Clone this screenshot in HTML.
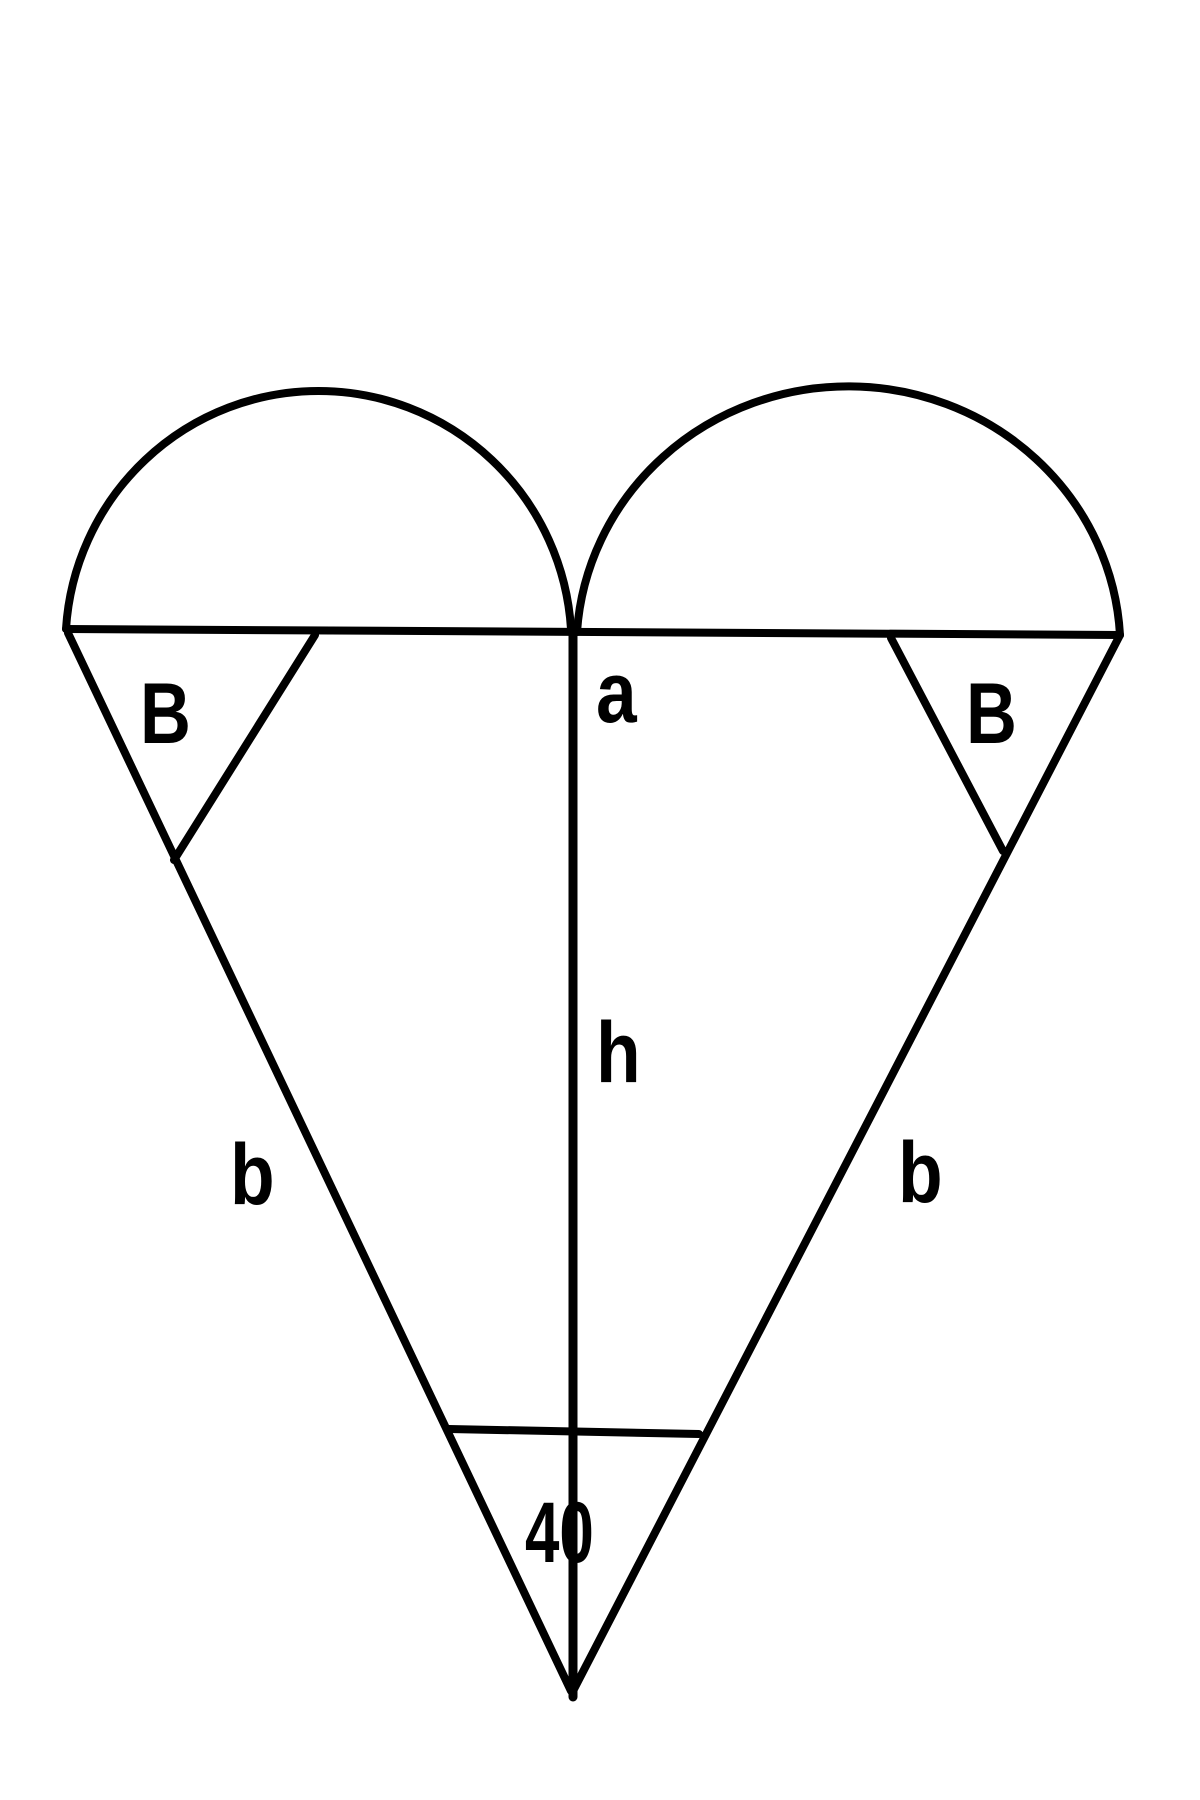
<!DOCTYPE html>
<html><head><meta charset="utf-8"><style>
html,body{margin:0;padding:0;background:#fff;}
svg{display:block;}
text{font-family:"Liberation Sans",sans-serif;font-weight:bold;fill:#000;}
</style></head><body>
<svg width="1200" height="1800" viewBox="0 0 1200 1800">
<g fill="none" stroke="#000" stroke-width="8" stroke-linecap="round" stroke-linejoin="round">
<path d="M66 629 A253 254 0 0 1 571 629"/>
<path d="M577 632 A272 263 0 0 1 1120 635"/>
<line x1="66" y1="629" x2="1120" y2="635"/>
<line x1="573" y1="629" x2="573" y2="1697" stroke-width="9"/>
<line x1="68" y1="633" x2="571" y2="1691"/>
<line x1="1120" y1="635" x2="573" y2="1691"/>
<line x1="315" y1="635" x2="174" y2="860"/>
<line x1="891" y1="638" x2="1003" y2="851"/>
<line x1="449" y1="1429" x2="699" y2="1434"/>
</g>
<text x="140" y="743" font-size="86" transform="translate(140 743) scale(0.82 1) translate(-140 -743)">B</text>
<text x="966" y="743" font-size="86" transform="translate(966 743) scale(0.82 1) translate(-966 -743)">B</text>
<text x="596" y="722" font-size="86" transform="translate(596 722) scale(0.85 1) translate(-596 -722)">a</text>
<text x="596" y="1082" font-size="86" transform="translate(596 1082) scale(0.85 1) translate(-596 -1082)">h</text>
<text x="230" y="1204" font-size="86" transform="translate(230 1204) scale(0.85 1) translate(-230 -1204)">b</text>
<text x="898" y="1202" font-size="86" transform="translate(898 1202) scale(0.85 1) translate(-898 -1202)">b</text>
<text x="525" y="1562" font-size="86" transform="translate(525 1562) scale(0.72 1) translate(-525 -1562)">40</text>
</svg>
</body></html>
